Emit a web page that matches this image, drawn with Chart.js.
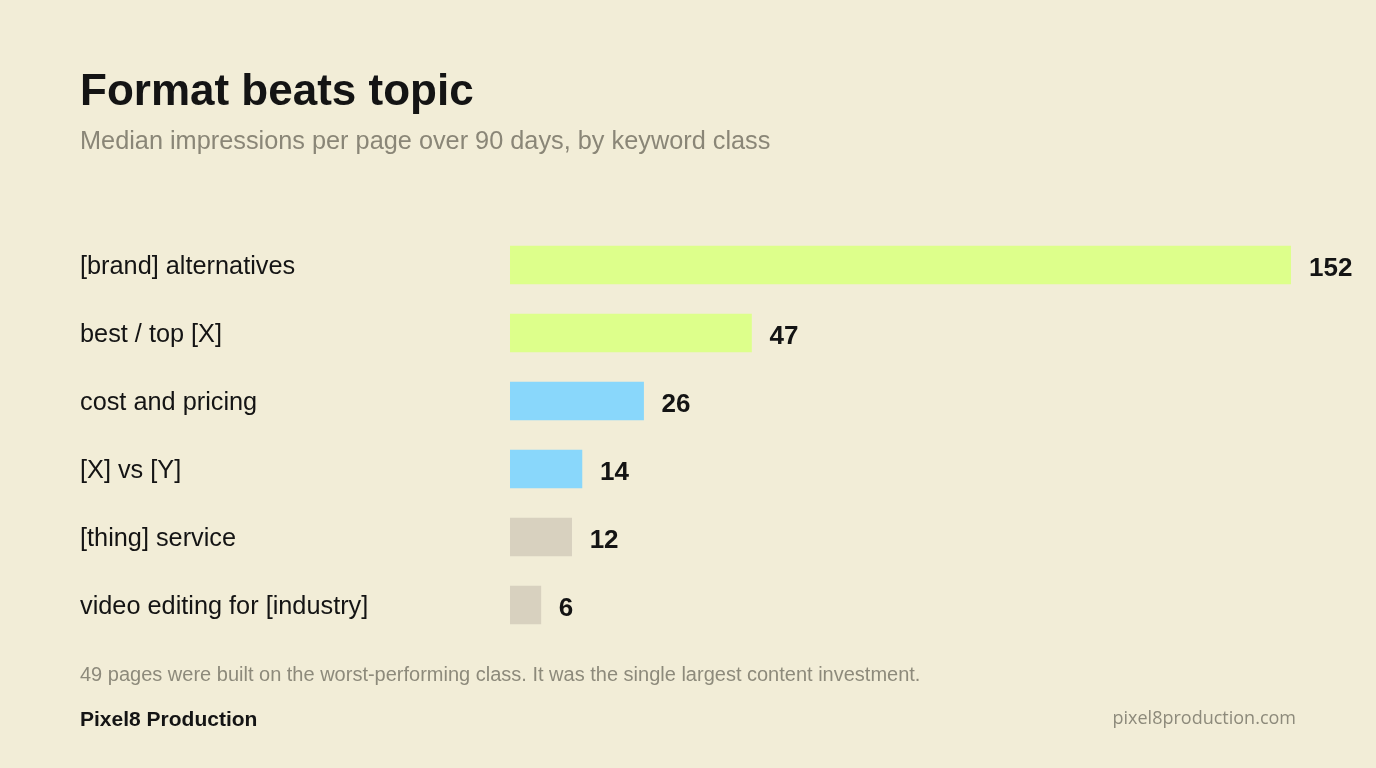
<!DOCTYPE html>
<html lang="en">
<head>
  <meta charset="UTF-8" />
  <title>Format beats topic</title>
  <script src="https://cdn.jsdelivr.net/npm/chart.js"></script>
  <style>
    html, body {
      margin: 0;
      padding: 0;
      background-color: #f2edd7;
      font-family: "Liberation Sans", Arial, sans-serif;
    }
    #page {
      position: relative;
      width: 1376px;
      height: 768px;
      overflow: hidden;
    }
    #page canvas {
      position: absolute;
      left: 0;
      top: 0;
    }
    .txt {
      position: absolute;
      white-space: nowrap;
      line-height: 1;
    }
    #title {
      left: 80px;
      top: 68px;
      font-size: 44px;
      font-weight: bold;
      color: #141414;
    }
    #subtitle {
      left: 80px;
      top: 128px;
      font-size: 25.3px;
      color: #8a8677;
    }
    #note {
      left: 80px;
      top: 664px;
      font-size: 20px;
      color: #8d8a7b;
    }
    #brand {
      left: 80px;
      top: 708px;
      font-size: 21px;
      font-weight: bold;
      color: #141414;
    }
    #site {
      right: 80px;
      top: 708px;
      font-family: "Open Sans", sans-serif;
      font-size: 18px;
      color: #8d8a7b;
    }
  </style>
</head>
<body>
  <div id="page">
    <canvas id="chart" width="1376" height="768"></canvas>
    <div class="txt" id="title">Format beats topic</div>
    <div class="txt" id="subtitle">Median impressions per page over 90 days, by keyword class</div>
    <div class="txt" id="note">49 pages were built on the worst-performing class. It was the single largest content investment.</div>
    <div class="txt" id="brand">Pixel8 Production</div>
    <div class="txt" id="site">pixel8production.com</div>
  </div>
  <script>
    const categories = ['[brand] alternatives', 'best / top [X]', 'cost and pricing', '[X] vs [Y]', '[thing] service', 'video editing for [industry]'];
    const impressions = [152, 47, 26, 14, 12, 6];
    const barColors = ['#ddff8b', '#ddff8b', '#89d7fb', '#89d7fb', '#d8d1bf', '#d8d1bf'];

    // numbers at the end of each bar
    const valueLabels = {
      id: 'valueLabels',
      afterDatasetsDraw(chart) {
        const ctx = chart.ctx;
        const meta = chart.getDatasetMeta(0);
        ctx.save();
        ctx.font = 'bold 26px "Liberation Sans", Arial, sans-serif';
        ctx.fillStyle = '#141414';
        ctx.textAlign = 'left';
        ctx.textBaseline = 'middle';
        meta.data.forEach((bar, i) => {
          ctx.fillText(String(impressions[i]), bar.x + 18, bar.y + 3.5);
        });
        ctx.restore();
      }
    };

    new Chart(document.getElementById('chart'), {
      type: 'bar',
      data: {
        labels: categories,
        datasets: [{
          data: impressions,
          backgroundColor: barColors,
          borderWidth: 0,
          barThickness: 38
        }]
      },
      plugins: [valueLabels],
      options: {
        indexAxis: 'y',
        responsive: false,
        animation: false,
        devicePixelRatio: 1,
        layout: {
          padding: { left: 80, right: 85, top: 231, bottom: 129 }
        },
        plugins: {
          legend: { display: false },
          tooltip: { enabled: false }
        },
        scales: {
          x: {
            display: false,
            min: 0,
            max: 152
          },
          y: {
            grid: { display: false },
            border: { display: false },
            afterFit(scale) { scale.width = 430; },
            ticks: {
              crossAlign: 'far',
              padding: 0,
              labelOffset: 2.5,
              color: '#141414',
              font: { family: '"Liberation Sans", Arial, sans-serif', size: 25.3 }
            }
          }
        }
      }
    });
  </script>
</body>
</html>
